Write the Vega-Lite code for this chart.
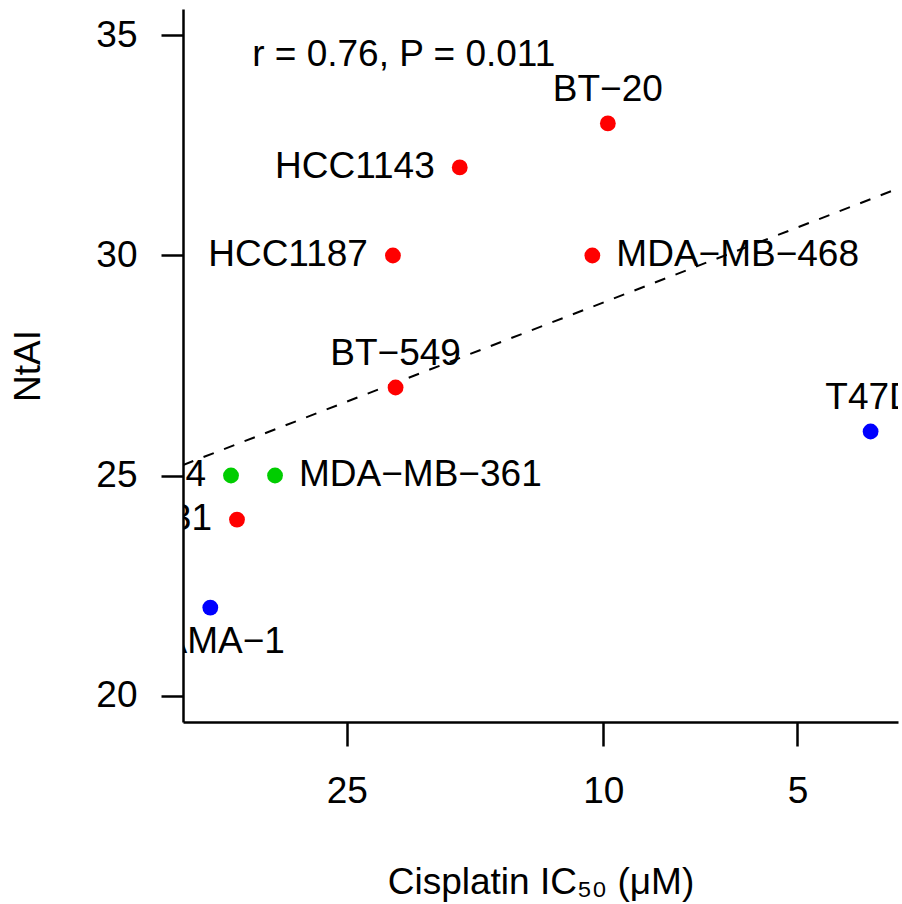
{
  "$schema": "https://vega.github.io/schema/vega-lite/v6.json",
  "width": 715,
  "height": 713,
  "autosize": {"type": "none"},
  "padding": {"left": 183, "top": 9, "right": 4, "bottom": 182},
  "background": "white",
  "config": {
    "font": "Liberation Sans",
    "view": {"stroke": null},
    "axis": {
      "grid": false,
      "domainColor": "black",
      "domainWidth": 2.5,
      "tickColor": "black",
      "tickWidth": 2.5,
      "labelColor": "black",
      "labelFontSize": 37,
      "labelFont": "Liberation Sans",
      "titleColor": "black",
      "titleFontSize": 37,
      "titleFont": "Liberation Sans",
      "titleFontWeight": "normal"
    }
  },
  "datasets": {
    "cells": [
      {"line": "BT−20", "ic50": 9.84, "ntai": 33, "group": "TNBC"},
      {"line": "HCC1143", "ic50": 16.7, "ntai": 32, "group": "TNBC"},
      {"line": "HCC1187", "ic50": 21.2, "ntai": 30, "group": "TNBC"},
      {"line": "MDA−MB−468", "ic50": 10.4, "ntai": 30, "group": "TNBC"},
      {"line": "BT−549", "ic50": 21.0, "ntai": 27, "group": "TNBC"},
      {"line": "T47D", "ic50": 3.85, "ntai": 26, "group": "Luminal"},
      {"line": "HCC1954", "ic50": 37.8, "ntai": 25, "group": "HER2"},
      {"line": "MDA−MB−361", "ic50": 32.3, "ntai": 25, "group": "HER2"},
      {"line": "MDA−MB−231", "ic50": 37.0, "ntai": 24, "group": "TNBC"},
      {"line": "CAMA−1", "ic50": 40.7, "ntai": 22, "group": "Luminal"}
    ],
    "fit": [
      {"ic50": 44.87, "ntai": 25.24},
      {"ic50": 3.491, "ntai": 31.52}
    ],
    "note": [
      {"label": "r = 0.76, P = 0.011", "ic50": 20.4, "ntai": 34.55}
    ]
  },
  "encoding": {
    "x": {
      "field": "ic50",
      "type": "quantitative",
      "scale": {"type": "log", "domain": [3.491, 44.87], "reverse": true, "nice": false, "zero": false},
      "axis": {
        "values": [5, 10, 25],
        "format": "d",
        "tickSize": 24,
        "labelBaseline": "alphabetic",
        "labelPadding": 56,
        "labelFlush": false,
        "labelOverlap": false,
        "title": "Cisplatin IC₅₀ (μM)",
        "titleBaseline": "alphabetic",
        "titleY": 171
      }
    },
    "y": {
      "field": "ntai",
      "type": "quantitative",
      "scale": {"domain": [19.4, 35.6], "nice": false, "zero": false},
      "axis": {
        "values": [20, 25, 30, 35],
        "tickSize": 22,
        "labelPadding": 24,
        "labelFlush": false,
        "labelOverlap": false,
        "title": "NtAI",
        "titleBaseline": "alphabetic",
        "titleX": -144
      }
    }
  },
  "layer": [
    {
      "data": {"name": "fit"},
      "mark": {"type": "line", "color": "black", "strokeWidth": 2, "strokeDash": [11, 11], "clip": true},
      "encoding": {}
    },
    {
      "data": {"name": "cells"},
      "mark": {"type": "circle", "size": 250, "opacity": 1, "strokeWidth": 0, "clip": true},
      "encoding": {
        "color": {
          "field": "group",
          "type": "nominal",
          "scale": {"domain": ["TNBC", "HER2", "Luminal"], "range": ["#FF0000", "#00CD00", "#0000FF"]},
          "legend": null
        }
      }
    },
    {
      "data": {"name": "cells"},
      "transform": [{"filter": {"field": "line", "oneOf": ["HCC1143", "HCC1187", "HCC1954", "MDA−MB−231"]}}],
      "mark": {"type": "text", "align": "right", "baseline": "alphabetic", "dx": -25, "dy": 10.5, "fontSize": 37, "color": "black", "clip": true},
      "encoding": {"text": {"field": "line"}}
    },
    {
      "data": {"name": "cells"},
      "transform": [{"filter": {"field": "line", "oneOf": ["MDA−MB−468", "MDA−MB−361"]}}],
      "mark": {"type": "text", "align": "left", "baseline": "alphabetic", "dx": 24, "dy": 10.5, "fontSize": 37, "color": "black", "clip": true},
      "encoding": {"text": {"field": "line"}}
    },
    {
      "data": {"name": "cells"},
      "transform": [{"filter": {"field": "line", "oneOf": ["BT−20", "BT−549", "T47D"]}}],
      "mark": {"type": "text", "align": "center", "baseline": "alphabetic", "dy": -22.5, "fontSize": 37, "color": "black", "clip": true},
      "encoding": {"text": {"field": "line"}}
    },
    {
      "data": {"name": "cells"},
      "transform": [{"filter": {"field": "line", "oneOf": ["CAMA−1"]}}],
      "mark": {"type": "text", "align": "center", "baseline": "alphabetic", "dy": 45, "fontSize": 37, "color": "black", "clip": true},
      "encoding": {"text": {"field": "line"}}
    },
    {
      "data": {"name": "note"},
      "mark": {"type": "text", "align": "center", "baseline": "middle", "fontSize": 37, "color": "black"},
      "encoding": {"text": {"field": "label"}}
    }
  ]
}
